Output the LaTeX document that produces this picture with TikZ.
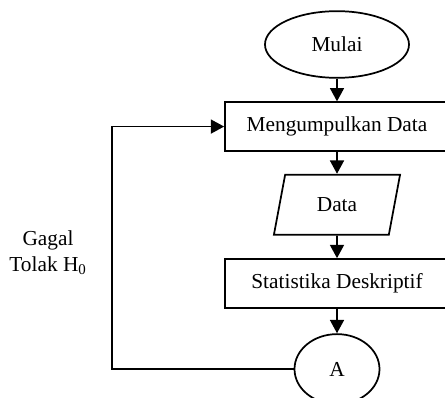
\documentclass[tikz,border=0pt]{standalone}
\usepackage{fontspec}
\setmainfont{Liberation Serif}
\usetikzlibrary{positioning}
\usetikzlibrary{shapes.geometric}
\usetikzlibrary{arrows.meta}

\begin{document}
\begin{tikzpicture}[x=0.75pt, y=-0.75pt, font=\fontsize{16}{19}\selectfont,
		mulaistyle/.style = {draw, ellipse, line width=1.3pt, minimum width=108pt, minimum height=50pt, inner sep=0pt},
		proses/.style = {draw, rectangle, line width=1.3pt, minimum width=168pt, minimum height=36.5pt},
		io/.style = {draw, trapezium, trapezium left angle=77, trapezium right angle=103, trapezium stretches=true, line width=1.3pt, minimum width=95pt, minimum height=45pt},
		konektor/.style = {draw, ellipse, line width=1.3pt, minimum width=63.75pt, minimum height=52.5pt},
		panah/.style = {line width=1.3pt, -{Triangle[width=10.5pt,length=10pt]}},
		node distance=17pt]
	\useasboundingbox (0,0) rectangle (445,398);
	\node[mulaistyle] (mulai) at (337,44.5) {Mulai};
	\node[proses] (kumpul) [below=17pt of mulai] {Mengumpulkan Data};
	\node[io] (data) [below=16.5pt of kumpul] {Data};
	\node[proses] (statistik) [below=17pt of data] {Statistika Deskriptif};
	\node[konektor] (A) [below=18.5pt of statistik] {A};
	\node[align=center] (gagal) at (48,253) {Gagal\\Tolak H\textsubscript{0}};
	\coordinate (belok) at (112,370);

	\draw[panah] (mulai) -- (kumpul);
	\draw[panah] (kumpul) -- (data);
	\draw[panah] (data) -- (statistik);
	\draw[panah] (statistik) -- (A);
	\draw[panah] (A.west) -- (A.west -| belok) |- (kumpul.west);
\end{tikzpicture}
\end{document}
